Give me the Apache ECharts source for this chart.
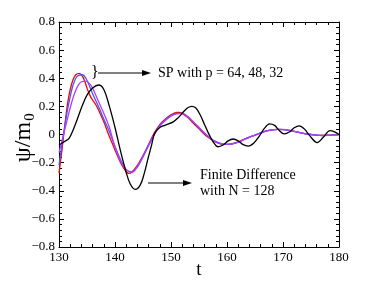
<!DOCTYPE html>
<html>
<head>
<meta charset="utf-8">
<script src="https://cdn.jsdelivr.net/npm/echarts@6/dist/echarts.min.js"></script>
<style>html,body{margin:0;padding:0;background:#fff}#c{width:374px;height:281px}</style>
</head>
<body>
<div id="c"></div>
<script>
// SP with p = 64 (red)
const sp64 = [
  [130,-0.275],[130.5,-0.12],[131,0.05],[131.5,0.21],[132,0.32],[132.5,0.39],[133,0.425],[133.6,0.435],
  [134,0.425],[134.5,0.39],[135,0.33],[135.5,0.28],[136,0.245],[136.6,0.21],[137,0.18],[138,0.09],
  [139,-0.015],[140,-0.11],[141,-0.2],[142,-0.265],[142.5,-0.277],[143,-0.268],[144,-0.22],[145,-0.15],
  [146,-0.07],[147,0.01],[148,0.07],[149,0.11],[150,0.14],[151,0.157],[151.5,0.158],[152,0.15],
  [153,0.12],[154,0.08],[155,0.04],[156,0.0],[157,-0.03],[158,-0.055],[159,-0.068],[160,-0.07],
  [161,-0.065],[162,-0.053],[163,-0.035],[164,-0.018],[165,-0.005],[166,0.012],[167,0.025],[168,0.033],
  [169,0.036],[170,0.035],[171,0.03],[172,0.022],[173,0.013],[174,0.005],[175,0.0],[176,-0.004],
  [177,-0.006],[178,-0.005],[179,-0.003],[180,0.0]
];
// SP with p = 48 (blue)
const sp48 = [
  [130,-0.22],[130.5,-0.08],[131,0.05],[131.5,0.17],[132,0.27],[132.5,0.35],[133,0.40],[133.5,0.42],
  [134.2,0.425],[134.8,0.40],[135.5,0.34],[136,0.29],[137.2,0.186],[138,0.11],[139,0.02],[139.9,-0.075],
  [141,-0.18],[142,-0.25],[143,-0.265],[144,-0.23],[145,-0.155],[146,-0.075],[147,0.0],[148,0.065],
  [149,0.105],[150,0.135],[151,0.15],[152,0.15],[153,0.125],[154,0.088],[155,0.048],[156,0.008],
  [157,-0.026],[158,-0.051],[159,-0.066],[160,-0.07],[161,-0.066],[162,-0.054],[163,-0.036],[164,-0.019],
  [165,-0.005],[166,0.011],[167,0.024],[168,0.033],[169,0.037],[170,0.035],[171,0.03],[172,0.022],
  [173,0.013],[174,0.005],[175,0.0],[176,-0.005],[177,-0.007],[178,-0.006],[179,-0.003],[180,-0.001]
];
// SP with p = 32 (magenta)
const sp32 = [
  [130,-0.13],[130.5,-0.05],[131,0.03],[131.5,0.11],[132,0.19],[132.5,0.26],[133,0.315],[133.5,0.355],
  [134,0.375],[134.8,0.38],[135.5,0.36],[136,0.33],[137,0.24],[137.9,0.16],[139,0.05],[140,-0.09],
  [141,-0.19],[142,-0.25],[143,-0.27],[144,-0.23],[145,-0.16],[146,-0.08],[147,-0.005],[148,0.06],
  [149,0.1],[150,0.13],[151,0.147],[152,0.15],[153,0.127],[154,0.09],[155,0.05],[156,0.01],
  [157,-0.025],[158,-0.05],[159,-0.065],[160,-0.07],[161,-0.066],[162,-0.054],[163,-0.037],[164,-0.02],
  [165,-0.005],[166,0.01],[167,0.024],[168,0.033],[169,0.037],[170,0.036],[171,0.031],[172,0.023],
  [173,0.014],[174,0.006],[175,0.0],[176,-0.005],[177,-0.007],[178,-0.006],[179,-0.003],[180,-0.001]
];
// Finite Difference with N = 128 (black)
const fd128 = [
  [130,-0.075],[131,-0.05],[131.8,-0.027],[132.5,0.03],[133,0.08],[134.2,0.21],[135,0.28],[136,0.33],
  [137.1,0.352],[138,0.32],[139,0.2],[140,0.05],[141,-0.12],[142,-0.27],[142.7,-0.35],[143.6,-0.39],
  [144.5,-0.36],[145.2,-0.28],[145.9,-0.17],[146.5,-0.08],[147.1,0.01],[148,0.05],[148.9,0.065],
  [150.4,0.09],[151.3,0.12],[152.2,0.16],[153,0.19],[153.7,0.2],[154.4,0.19],[155.2,0.14],[156,0.07],
  [156.7,0.008],[157.5,-0.05],[158.4,-0.087],[159.3,-0.075],[160.2,-0.045],[161.1,-0.032],[162,-0.045],
  [162.8,-0.07],[163.8,-0.082],[164.8,-0.06],[165.8,-0.01],[166.7,0.045],[167.6,0.075],[168.5,0.065],
  [169.3,0.03],[170.2,0.004],[171.2,0.02],[172,0.048],[172.9,0.062],[173.8,0.04],[174.8,-0.01],
  [176.1,-0.058],[177.2,-0.02],[178.4,0.027],[179.2,0.018],[180,0.0]
];
const xTicks = {min:130, max:180, interval:10};
const yTicks = {min:-0.8, max:0.8, interval:0.2};

const FONT = 'Liberation Serif';
const chart = echarts.init(document.getElementById('c'), null, {renderer:'canvas'});
const fmtY = v => (Math.abs(v) < 1e-9 ? '0' : (+v).toFixed(1)).replace('-', '\u2212');
const baseAxis = {
  axisLine:{show:true, onZero:false, lineStyle:{color:'#000', width:1}},
  axisTick:{show:true, inside:true, length:5, lineStyle:{color:'#000', width:1}},
  minorTick:{show:true, splitNumber:5, length:3, lineStyle:{color:'#000', width:1}},
  splitLine:{show:false}
};
function mkLine(name, data, color, z){
  return {name, type:'line', data, smooth:0.35, showSymbol:false, symbol:'none',
    lineStyle:{color, width:1.3}, itemStyle:{color}, z, clip:true, animation:false};
}
chart.setOption({
  animation:false,
  backgroundColor:'#fff',
  textStyle:{fontFamily:FONT, color:'#000'},
  grid:{left:59, right:35, top:22, bottom:34, outerBoundsMode:'none'},
  xAxis:[
    Object.assign({type:'value', position:'bottom', min:xTicks.min, max:xTicks.max, interval:xTicks.interval,
      axisLabel:{fontFamily:FONT, fontSize:13, color:'#000', margin:4}}, baseAxis),
    Object.assign({type:'value', position:'top', min:xTicks.min, max:xTicks.max, interval:xTicks.interval,
      axisLabel:{show:false}}, baseAxis)
  ],
  yAxis:[
    Object.assign({type:'value', position:'left', min:yTicks.min, max:yTicks.max, interval:yTicks.interval,
      axisLabel:{fontFamily:FONT, fontSize:13, color:'#000', margin:4, formatter:fmtY}}, baseAxis),
    Object.assign({type:'value', position:'right', min:yTicks.min, max:yTicks.max, interval:yTicks.interval,
      axisLabel:{show:false}}, baseAxis)
  ],
  series:[
    mkLine('SP p=64', sp64, '#ff0000', 2),
    mkLine('SP p=48', sp48, '#3d5cff', 3),
    mkLine('SP p=32', sp32, '#b23cff', 4),
    mkLine('FD N=128', fd128, '#000000', 5)
  ],
  graphic:[
    {type:'text', style:{text:'t', x:199, y:270, font:'19px Liberation Serif', fill:'#000', align:'center', verticalAlign:'middle'}},
    {type:'text', rotation:Math.PI/2, x:24, y:142,
      style:{text:'\u03C8/m', x:0, y:0, align:'center', verticalAlign:'middle', font:'24px Liberation Serif', fill:'#000'}},
    {type:'text', rotation:Math.PI/2, x:30, y:117,
      style:{text:'0', x:0, y:0, align:'center', verticalAlign:'middle', font:'15px Liberation Serif', fill:'#000'}},
    {type:'text', style:{text:'}', x:91, y:73, font:'16px Liberation Serif', fill:'#000', verticalAlign:'middle'}},
    {type:'line', shape:{x1:98, y1:73, x2:146, y2:73}, style:{stroke:'#000', lineWidth:1}},
    {type:'polygon', shape:{points:[[151,73],[142,70],[142,76]]}, style:{fill:'#000'}},
    {type:'text', style:{text:'SP with p = 64, 48, 32', x:158, y:73, font:'14px Liberation Serif', fill:'#000', verticalAlign:'middle'}},
    {type:'line', shape:{x1:148, y1:183, x2:187, y2:183}, style:{stroke:'#000', lineWidth:1}},
    {type:'polygon', shape:{points:[[192,183],[183,180],[183,186]]}, style:{fill:'#000'}},
    {type:'text', style:{text:'Finite Difference', x:200, y:175, font:'14px Liberation Serif', fill:'#000', verticalAlign:'middle'}},
    {type:'text', style:{text:'with N = 128', x:200, y:191, font:'14px Liberation Serif', fill:'#000', verticalAlign:'middle'}}
  ]
});
</script>
</body>
</html>
